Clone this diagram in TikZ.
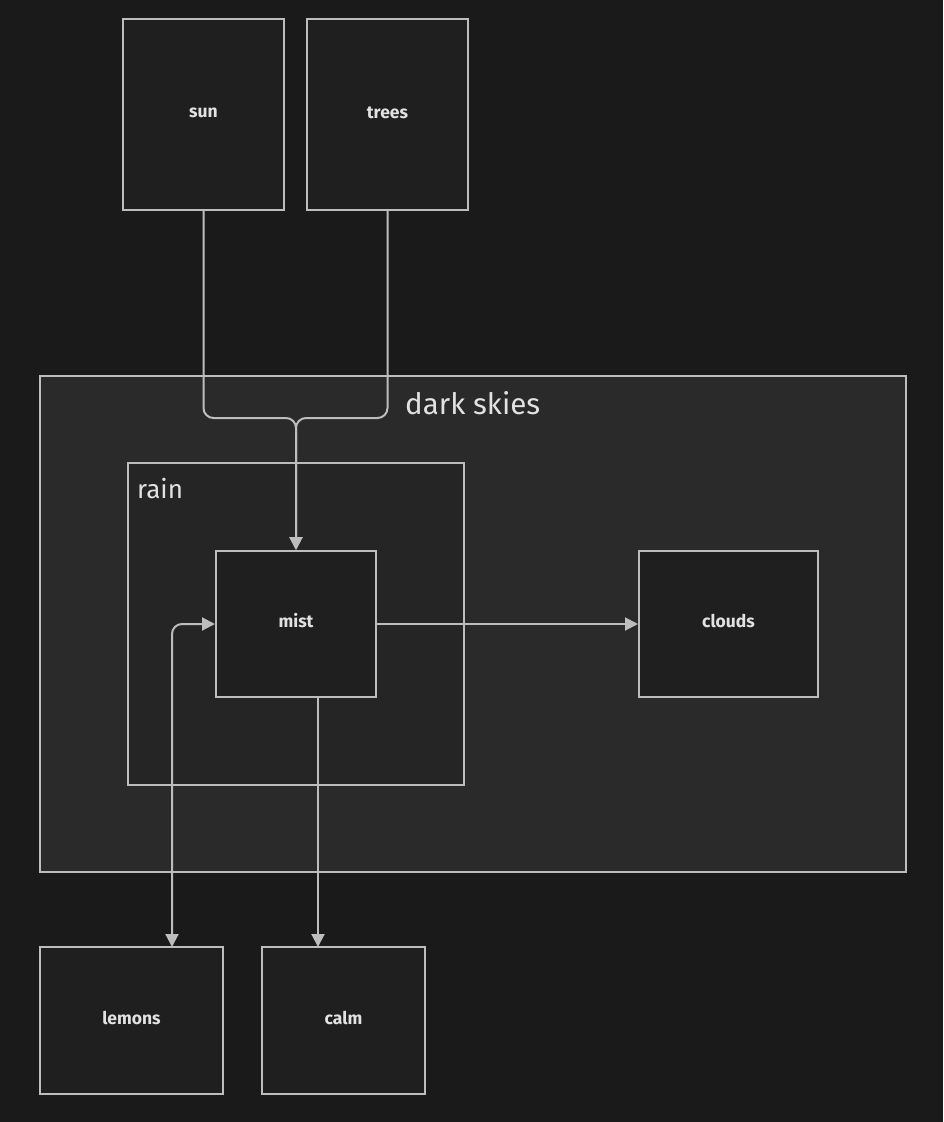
\documentclass[tikz,border=0pt]{standalone}
\usepackage{fontspec}
\setmainfont{Fira Sans}
\usetikzlibrary{arrows.meta}
\definecolor{bgc}{HTML}{1A1A1A}
\definecolor{boxc}{HTML}{1F1F1F}
\definecolor{outerc}{HTML}{2A2A2A}
\definecolor{innerc}{HTML}{252525}
\definecolor{linec}{HTML}{BDBDBD}
\definecolor{textc}{HTML}{E2E2E2}
\tikzset{
  leaf/.style={draw=linec, fill=boxc, line width=2pt, inner sep=0pt},
  leaflabel/.style={text=textc, font=\fontsize{17.5}{20}\selectfont\bfseries},
  group/.style={draw=linec, line width=2pt},
  conn/.style={draw=linec, line width=2pt, rounded corners=10pt,
    -{Triangle[length=13pt,width=13pt]}},
  biconn/.style={draw=linec, line width=2pt, rounded corners=10pt,
    {Triangle[length=13pt,width=13pt]}-{Triangle[length=13pt,width=13pt]}},
}
\begin{document}
\begin{tikzpicture}[x=1pt,y=-1pt]
\fill[bgc] (0,0) rectangle (943,1122);
\useasboundingbox (0,0) rectangle (943,1122);
% groups
\draw[group, fill=outerc] (40,376) rectangle (906,872);
\node[text=textc, font=\fontsize{29.5}{34}\selectfont, anchor=west, inner sep=0pt] (darkskies) at (405,403) {dark skies};
\draw[group, fill=innerc] (128,463) rectangle (464,785);
\node[text=textc, font=\fontsize{26}{30}\selectfont, anchor=west, inner sep=0pt] (rain) at (137,489) {rain};
% leaves
\node[leaf, minimum width=161pt, minimum height=191pt] (sun) at (203.5,114.5) {};
\node[leaflabel] (sunl) at (203.5,113) {sun};
\node[leaf, minimum width=161pt, minimum height=191pt] (trees) at (387.5,114.5) {};
\node[leaflabel] (treesl) at (387.5,113) {trees};
\node[leaf, minimum width=160pt, minimum height=146pt] (mist) at (296,624) {};
\node[leaflabel] (mistl) at (296,621) {mist};
\node[leaf, minimum width=179pt, minimum height=146pt] (clouds) at (728.5,624) {};
\node[leaflabel] (cloudsl) at (728.5,621) {clouds};
\node[leaf, minimum width=183pt, minimum height=147pt] (lemons) at (131.5,1020.5) {};
\node[leaflabel] (lemonsl) at (131.5,1018) {lemons};
\node[leaf, minimum width=163pt, minimum height=147pt] (calm) at (343.5,1020.5) {};
\node[leaflabel] (calml) at (343.5,1018) {calm};
% connectors
\coordinate (merge) at (296,418);
\coordinate (mistout) at (318,697);
\coordinate (calmin) at (318,947);
\coordinate (lemin) at (172,947);
\draw[conn] (sun.south) -- (sun.south |- merge) -- (merge) -- (mist.north);
\draw[conn] (trees.south) -- (trees.south |- merge) -- (merge) -- (mist.north);
\draw[conn] (mist.east) -- (clouds.west);
\draw[conn] (mistout) -- (calmin);
\draw[biconn] (lemin) -- (lemin |- mist.west) -- (mist.west);
\end{tikzpicture}
\end{document}
